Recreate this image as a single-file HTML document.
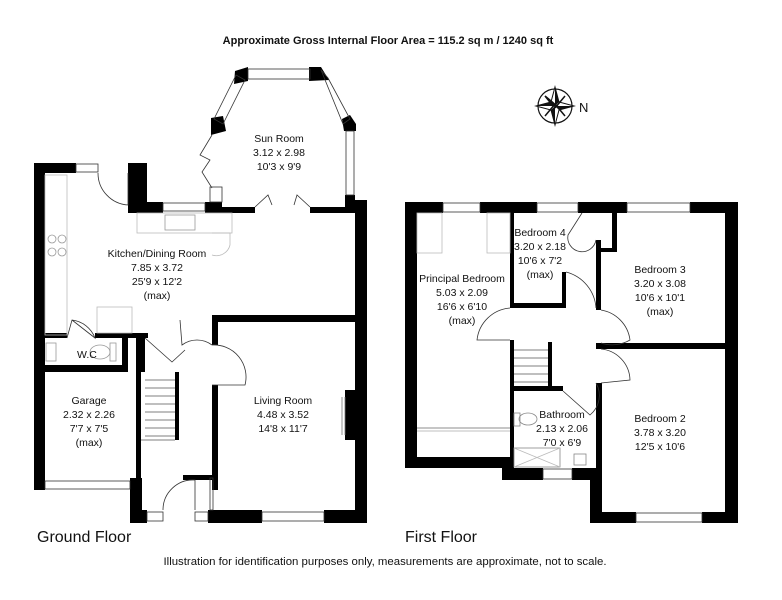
<!DOCTYPE html>
<html><head><meta charset="utf-8"><style>
html,body{margin:0;padding:0;background:#fff}
svg{display:block}
text{font-family:"Liberation Sans",Arial,sans-serif;fill:#111}
</style></head><body>
<svg width="782" height="600" viewBox="0 0 782 600" xmlns="http://www.w3.org/2000/svg">
<text x="388" y="44" font-size="11" font-weight="bold" text-anchor="middle">Approximate Gross Internal Floor Area  = 115.2 sq m  / 1240 sq ft</text>
<g transform="translate(555,106)">
<circle r="17" fill="none" stroke="#111" stroke-width="1.2"/>
<path d="M0,-19 L4,-4 L19,0 L4,4 L0,19 L-4,4 L-19,0 L-4,-4 Z" fill="#fff" stroke="#111" stroke-width="1"/>
<path d="M0,-19 L4,-4 L0,0 Z M19,0 L4,4 L0,0 Z M0,19 L-4,4 L0,0 Z M-19,0 L-4,-4 L0,0 Z" fill="#111"/>
<path d="M-10,-10 L-2,0 L2,0 Z M10,-10 L0,2 Z M10,10 L0,-2 Z M-10,10 L0,-2 Z" fill="#111" stroke="#111" stroke-width="1.5"/>
</g>
<text x="579" y="112" font-size="13">N</text>

<g fill="#000">
<rect x="34" y="163" width="11" height="327"/>
<rect x="34" y="163" width="42" height="10"/>
<rect x="128" y="163" width="19" height="50"/>
<rect x="147" y="202" width="16" height="11"/>
<rect x="205" y="202" width="17" height="11"/>
<rect x="222" y="207" width="33" height="6"/>
<rect x="310" y="207" width="45" height="6"/>
<rect x="345" y="195" width="10" height="12"/>
<rect x="355" y="200" width="12" height="323"/>
<rect x="212" y="315" width="143" height="7"/>
<rect x="212" y="315" width="6" height="30"/>
<rect x="212" y="385" width="6" height="105"/>
<rect x="208" y="510" width="54" height="13"/>
<rect x="324" y="510" width="43" height="13"/>
<rect x="130" y="478" width="12" height="45"/>
<rect x="130" y="510" width="17" height="13"/>
<rect x="45" y="333" width="22" height="5"/>
<rect x="95" y="333" width="53" height="5"/>
<rect x="45" y="365" width="77" height="7"/>
<rect x="122" y="338" width="6" height="34"/>
<rect x="136" y="338" width="5" height="142"/>
<rect x="175" y="372" width="4" height="68"/>
<rect x="141" y="338" width="4" height="34"/>
<rect x="183" y="475" width="29" height="5"/>
<rect x="345" y="390" width="10" height="50"/>
<polygon points="248,67 235,71 234,84 248,81"/>
<polygon points="309,67 321,67 329,80 309,81"/>
<polygon points="211,118 223,116 226,131 211,135"/>
<polygon points="342,119 350,115 356,124 356,131 344,131"/>
<rect x="405" y="202" width="38" height="11"/>
<rect x="480" y="202" width="57" height="11"/>
<rect x="578" y="202" width="49" height="11"/>
<rect x="690" y="202" width="48" height="11"/>
<rect x="405" y="202" width="12" height="266"/>
<rect x="725" y="202" width="13" height="321"/>
<rect x="405" y="457" width="97" height="11"/>
<rect x="502" y="457" width="11" height="23"/>
<rect x="502" y="468" width="41" height="12"/>
<rect x="572" y="468" width="24" height="12"/>
<rect x="590" y="468" width="12" height="55"/>
<rect x="590" y="512" width="46" height="11"/>
<rect x="702" y="512" width="36" height="11"/>
<rect x="510" y="213" width="4" height="95"/>
<rect x="510" y="303" width="52" height="5"/>
<rect x="562" y="272" width="4" height="36"/>
<rect x="596" y="240" width="5" height="70"/>
<rect x="612" y="213" width="5" height="39"/>
<rect x="596" y="248" width="21" height="4"/>
<rect x="596" y="343" width="131" height="6"/>
<rect x="596" y="383" width="6" height="85"/>
<rect x="510" y="340" width="4" height="48"/>
<rect x="548" y="342" width="4" height="46"/>
<rect x="510" y="386" width="53" height="5"/>
<rect x="510" y="391" width="4" height="89"/>
</g>

<g fill="none" stroke="#333" stroke-width="0.8">
<rect x="76" y="164" width="22" height="8"/>
<rect x="163" y="203" width="42" height="8"/>
<rect x="262" y="512" width="62" height="9"/>
<rect x="45" y="481" width="85" height="8"/>
<rect x="147" y="512" width="16" height="9"/>
<rect x="195" y="512" width="13" height="9"/>
<rect x="248" y="69" width="62" height="10"/>
<rect x="346" y="131" width="8" height="64"/>
<rect x="210" y="187" width="12" height="15"/>
<rect x="210" y="478" width="3" height="32"/>
<polygon points="236,75 245,80 223,124 214,119"/>
<polygon points="321,70 328,78 350,119 343,124"/>
<path d="M98,173 A32,32 0 0 0 128,205 L128,173"/>
<path d="M212,135 L200,155 L210,160 L202,172 L212,188"/>
<path d="M255,207 L268,195 L272,205 M310,207 L297,195 L294,205"/>
<path d="M67,338 L72,320 A28,28 0 0 1 95,338 L72,320"/>
<path d="M180,320 L182,345 A25,25 0 0 1 212,345"/>
<path d="M145,338 L172,362 L185,350 L172,362"/>
<path d="M212,345 A32,32 0 0 1 245,385 L212,385"/>
<path d="M163,510 A30,30 0 0 1 195,480 L195,510"/>
<rect x="45" y="175" width="22" height="160" stroke="#bbb"/>
<rect x="137" y="213" width="95" height="20" stroke="#bbb"/>
<rect x="165" y="215" width="30" height="15" stroke="#999"/>
<path d="M212,233 L230,233 L230,245 A14,14 0 0 1 212,255" stroke="#bbb"/>
<circle cx="52" cy="239" r="4" stroke="#999"/><circle cx="62" cy="239" r="4" stroke="#999"/>
<circle cx="52" cy="252" r="4" stroke="#999"/><circle cx="62" cy="252" r="4" stroke="#999"/>
<rect x="97" y="307" width="35" height="26" stroke="#bbb"/>
<rect x="46" y="343" width="10" height="18" stroke="#999"/>
<ellipse cx="100" cy="352" rx="10" ry="7" stroke="#999"/>
<rect x="110" y="343" width="6" height="18" stroke="#999"/>
<g stroke="#555">
<line x1="145" y1="380" x2="175" y2="380"/><line x1="145" y1="388" x2="175" y2="388"/>
<line x1="145" y1="396" x2="175" y2="396"/><line x1="145" y1="404" x2="175" y2="404"/>
<line x1="145" y1="412" x2="175" y2="412"/><line x1="145" y1="420" x2="175" y2="420"/>
<line x1="145" y1="428" x2="175" y2="428"/><line x1="145" y1="436" x2="175" y2="436"/>
<line x1="141" y1="440" x2="175" y2="440"/>
</g>
<path d="M345,397 L345,435 M342,397 L342,435" stroke="#777"/>
<rect x="443" y="203" width="37" height="9"/>
<rect x="537" y="203" width="41" height="9"/>
<rect x="627" y="203" width="63" height="9"/>
<rect x="636" y="513" width="66" height="9"/>
<rect x="543" y="469" width="29" height="10"/>
<path d="M566,272 A40,40 0 0 1 596,308"/>
<path d="M582,213 L568,235 A12,12 0 0 0 596,240"/>
<path d="M510,308 A36,36 0 0 0 477,340 L510,340"/>
<path d="M601,310 A35,35 0 0 1 630,340 A35,35 0 0 1 601,343"/>
<path d="M601,349 A32,32 0 0 1 630,380 L601,383"/>
<path d="M563,391 L590,415 A25,25 0 0 0 596,383"/>
<rect x="417" y="213" width="25" height="40" stroke="#bbb"/>
<rect x="487" y="213" width="23" height="40" stroke="#bbb"/>
<line x1="417" y1="428" x2="510" y2="428" stroke="#666"/>
<line x1="417" y1="431" x2="510" y2="431" stroke="#aaa"/>
<g stroke="#555">
<line x1="514" y1="350" x2="548" y2="350"/><line x1="514" y1="358" x2="548" y2="358"/>
<line x1="514" y1="366" x2="548" y2="366"/><line x1="514" y1="374" x2="548" y2="374"/>
<line x1="514" y1="382" x2="548" y2="382"/>
</g>
<ellipse cx="528" cy="419" rx="9" ry="6" stroke="#888"/>
<rect x="514" y="413" width="6" height="13" stroke="#888"/>
<rect x="514" y="448" width="46" height="19" stroke="#888"/>
<path d="M514,448 L560,467 M560,448 L514,467" stroke="#bbb"/>
<rect x="574" y="454" width="12" height="11" stroke="#888"/>
</g>

<g font-size="10.5" text-anchor="middle">
<text x="279" y="142">Sun Room</text><text x="279" y="156">3.12 x 2.98</text><text x="279" y="170">10'3 x 9'9</text>
<text x="157" y="257">Kitchen/Dining Room</text><text x="157" y="271">7.85 x 3.72</text><text x="157" y="285">25'9 x 12'2</text><text x="157" y="299">(max)</text>
<text x="77" y="358" text-anchor="start">W.C</text>
<text x="89" y="404">Garage</text><text x="89" y="418">2.32 x 2.26</text><text x="89" y="432">7'7 x 7'5</text><text x="89" y="446">(max)</text>
<text x="283" y="404">Living Room</text><text x="283" y="418">4.48 x 3.52</text><text x="283" y="432">14'8 x 11'7</text>
<text x="462" y="282">Principal Bedroom</text><text x="462" y="296">5.03 x 2.09</text><text x="462" y="310">16'6 x 6'10</text><text x="462" y="324">(max)</text>
<text x="540" y="236">Bedroom 4</text><text x="540" y="250">3.20 x 2.18</text><text x="540" y="264">10'6 x 7'2</text><text x="540" y="278">(max)</text>
<text x="660" y="273">Bedroom 3</text><text x="660" y="287">3.20 x 3.08</text><text x="660" y="301">10'6 x 10'1</text><text x="660" y="315">(max)</text>
<text x="562" y="418">Bathroom</text><text x="562" y="432">2.13 x 2.06</text><text x="562" y="446">7'0 x 6'9</text>
<text x="660" y="422">Bedroom 2</text><text x="660" y="436">3.78 x 3.20</text><text x="660" y="450">12'5 x 10'6</text>
</g>
<text x="37" y="542" font-size="16">Ground Floor</text>
<text x="405" y="542" font-size="16">First Floor</text>
<text x="385" y="565" font-size="11.4" text-anchor="middle">Illustration for identification purposes only, measurements are approximate, not to scale.</text>
</svg>
</body></html>
